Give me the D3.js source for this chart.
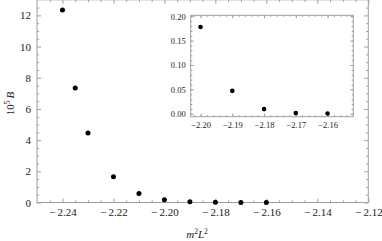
<!DOCTYPE html>
<html>
<head>
<meta charset="utf-8">
<script src="https://cdn.jsdelivr.net/npm/d3@7"></script>
<style>
  body { margin: 0; background: #fff; }
  svg { display: block; }
  svg text { font-family: "Liberation Serif", "DejaVu Serif", serif; }
  .tick text { fill: #222; }
</style>
</head>
<body>
<svg id="chart" width="382" height="241"></svg>
<script>
// Data (10^5 B against m^2 L^2)
const mL2 = [-2.24, -2.235, -2.23, -2.22, -2.21, -2.20, -2.19, -2.18, -2.17, -2.16];
const B5 = [12.35, 7.35, 4.45, 1.65, 0.58, 0.178, 0.047, 0.0096, 0.0014, 0.0005];

// tick values
const mainXTicks = [-2.24, -2.22, -2.20, -2.18, -2.16, -2.14, -2.12];
const mainYTicks = [0, 2, 4, 6, 8, 10, 12];
const insetXTicks = [-2.20, -2.19, -2.18, -2.17, -2.16];
const insetYTicks = [0, 0.05, 0.10, 0.15, 0.20];

const frameColor = "#a0a0a0";
const serif = "'Liberation Serif', 'DejaVu Serif', serif";
const svg = d3.select("#chart");

// turns -2.24 into "− 2.24"
function minusFmt(spaced, digits) {
    return d => (d < 0 ? "\u2212" + (spaced ? "\u2009" : "") : "") + Math.abs(d).toFixed(digits);
}

// Draws a framed panel with inward ticks on every side
function framePanel(g, x, y, opts) {
    let [x0, x1] = x.range();
    let [y0, y1] = y.range();

    // frame
    g.append("rect")
        .attr("x", x0).attr("y", y1)
        .attr("width", x1 - x0).attr("height", y0 - y1)
        .attr("fill", "none")
        .attr("stroke", frameColor)
        .attr("stroke-width", 1);

    // minor ticks first, then major ticks with labels
    let sides = [
        {axis: d3.axisBottom, sc: x, tr: `translate(0,${y0})`, minor: opts.xMinor, major: opts.xTicks, label: true, fmt: opts.xFmt},
        {axis: d3.axisTop, sc: x, tr: `translate(0,${y1})`, minor: opts.xMinor, major: opts.xTicks, label: false},
        {axis: d3.axisLeft, sc: y, tr: `translate(${x0},0)`, minor: opts.yMinor, major: opts.yTicks, label: true, fmt: opts.yFmt},
        {axis: d3.axisRight, sc: y, tr: `translate(${x1},0)`, minor: opts.yMinor, major: opts.yTicks, label: false}
    ];
    sides.forEach(s => {
        let mg = g.append("g").attr("transform", s.tr)
            .call(s.axis(s.sc).tickValues(s.minor).tickSize(-opts.minorLen).tickFormat(""));
        mg.select(".domain").remove();
        mg.selectAll("line").attr("stroke", frameColor);

        let ag = g.append("g").attr("transform", s.tr)
            .call(s.axis(s.sc).tickValues(s.major).tickSize(-opts.majorLen)
                .tickPadding(opts.pad + opts.majorLen)
                .tickFormat(s.label ? s.fmt : ""));
        ag.select(".domain").remove();
        ag.attr("font-family", serif).attr("font-size", opts.fontSize);
        ag.selectAll("text").style("font-family", serif);
        ag.selectAll("line").attr("stroke", frameColor);
    });
}

// ---------- main plot ----------
let x = d3.scaleLinear().domain([-2.25, -2.12]).range([37, 368.3]);
let y = d3.scaleLinear().domain([0, 13]).range([202.5, -0.2]);

let mainG = svg.append("g");
framePanel(mainG, x, y, {
    xTicks: mainXTicks, yTicks: mainYTicks,
    xMinor: d3.range(-2.245, -2.12, 0.005).filter(v => Math.abs(Math.round(v * 50) - v * 50) > 1e-6),
    yMinor: d3.range(0.5, 13, 0.5).filter(v => v % 2 !== 0),
    majorLen: 4, minorLen: 2.2, pad: 2, fontSize: "11px",
    xFmt: minusFmt(true, 2), yFmt: d3.format("d")
});

mainG.selectAll("circle.pt")
    .data(mL2.map((d, i) => [d, B5[i]]))
    .enter().append("circle")
    .attr("class", "pt")
    .attr("cx", d => x(d[0]))
    .attr("cy", d => y(d[1]))
    .attr("r", 2.5)
    .attr("fill", "#000");

// axis labels
let yLab = svg.append("text")
    .attr("transform", "translate(13.5,103.5) rotate(-90)")
    .attr("text-anchor", "middle")
    .attr("font-size", "11px")
    .attr("fill", "#222");
yLab.append("tspan").text("10");
yLab.append("tspan").attr("dy", -4).attr("font-size", "7.5px").text("5");
yLab.append("tspan").attr("dy", 4).attr("font-style", "italic").text("\u2009B");

let xLab = svg.append("text")
    .attr("x", 197).attr("y", 238)
    .attr("text-anchor", "middle")
    .attr("font-size", "11px")
    .attr("fill", "#222");
xLab.append("tspan").attr("font-style", "italic").text("m");
xLab.append("tspan").attr("dy", -4).attr("font-size", "7.5px").text("2");
xLab.append("tspan").attr("dy", 4).attr("font-style", "italic").text("L");
xLab.append("tspan").attr("dy", -4).attr("font-size", "7.5px").text("2");

// ---------- inset ----------
let ix = d3.scaleLinear().domain([-2.2031, -2.1519]).range([190.7, 353.3]);
let iy = d3.scaleLinear().domain([-0.006, 0.202]).range([116.7, 15.3]);

let insetG = svg.append("g");
insetG.append("rect")
    .attr("x", 190.7).attr("y", 15.3)
    .attr("width", 353.3 - 190.7).attr("height", 116.7 - 15.3)
    .attr("fill", "#fff");
framePanel(insetG, ix, iy, {
    xTicks: insetXTicks, yTicks: insetYTicks,
    xMinor: d3.range(-2.202, -2.152, 0.002),
    yMinor: d3.range(-0.0, 0.201, 0.01),
    majorLen: 3, minorLen: 1.6, pad: 2, fontSize: "8.5px",
    xFmt: minusFmt(false, 2), yFmt: d3.format(".2f")
});

insetG.selectAll("circle.pt")
    .data(mL2.map((d, i) => [d, B5[i]]).filter(d => d[0] >= -2.2001))
    .enter().append("circle")
    .attr("class", "pt")
    .attr("cx", d => ix(d[0]))
    .attr("cy", d => iy(d[1]))
    .attr("r", 2.3)
    .attr("fill", "#000");
</script>
</body>
</html>
